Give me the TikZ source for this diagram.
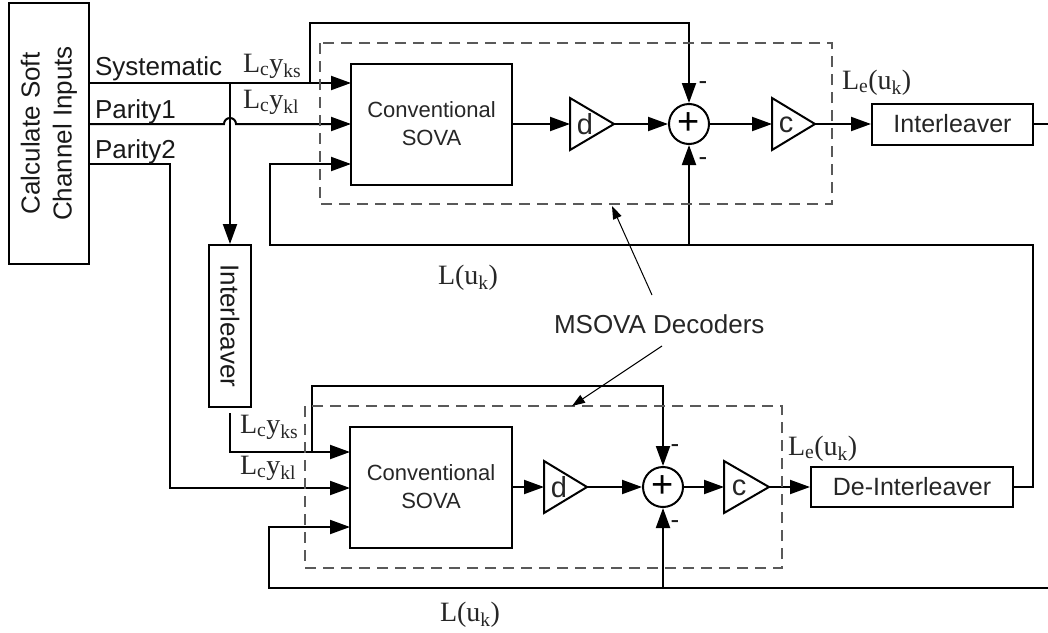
\documentclass[tikz,border=0pt]{standalone}
\usepackage{fontspec}
\setmainfont{Liberation Serif}
\setsansfont{Liberation Sans}
\usetikzlibrary{arrows.meta,calc}
\begin{document}
\begin{tikzpicture}[x=1pt,y=-1pt,
  line width=2pt,
  arr/.style={-{Triangle[length=20pt,width=14pt]}},
  box/.style={draw, line width=2pt, inner sep=0pt, font=\sffamily\fontsize{25}{28}\selectfont, text=black!85},
  sovabox/.style={box, align=center, font=\sffamily\fontsize{22}{28}\selectfont},
  sans/.style={font=\sffamily\fontsize{26}{32}\selectfont, inner sep=0pt, text=black!90},
  big/.style={font=\sffamily\fontsize{29}{32}\selectfont, inner sep=0pt, text=black!85},
  ser/.style={font=\rmfamily\fontsize{28}{30}\selectfont, inner sep=0pt, text=black!85},
  dbox/.style={draw=black!65, line width=1.5pt, dash pattern=on 11pt off 7pt},
  sumc/.style={circle, draw, line width=2pt, minimum size=40pt, inner sep=0pt, font=\sffamily\fontsize{38}{38}\selectfont},
  tri/.style={draw, line width=2pt, line join=miter},
  thinarr/.style={line width=1pt, -{Triangle[length=13pt,width=9pt]}},
]
\useasboundingbox (0,0) rectangle (1048,632);

% ---- blocks
\node[box, minimum width=80pt, minimum height=261pt] (calc) at (49,133.5) {};
\node[sans, rotate=90, align=center] (calctxt) at (calc) {Calculate Soft\\Channel Inputs};

\node[sovabox, minimum width=161pt, minimum height=121pt] (sova1) at (431.5,124) {Conventional\\SOVA};
\node[sovabox, minimum width=162pt, minimum height=121pt] (sova2) at (431,487) {Conventional\\SOVA};

\node[box, minimum width=161pt, minimum height=41pt] (intl2) at (952.5,124) {Interleaver};
\node[box, minimum width=42pt, minimum height=162pt] (intl) at (230,326) {};
\node[sans, rotate=-90] (intltxt) at (intl) {Interleaver};
\node[box, minimum width=202pt, minimum height=40pt] (deint) at (912,487) {De-Interleaver};

\node[sumc] (sum1) at (689,124) {+};
\node[sumc] (sum2) at (663,487) {+};

% ---- gain triangles
\coordinate (d1in) at (570,124); \coordinate (d1out) at (614,124);
\coordinate (c1in) at (772,124); \coordinate (c1out) at (815,124);
\coordinate (d2in) at (544,487); \coordinate (d2out) at (587,487);
\coordinate (c2in) at (724,487); \coordinate (c2out) at (769,487);
\draw[tri] (570,98) -- (d1out) -- (570,150) -- cycle;
\draw[tri] (772,98) -- (c1out) -- (772,150) -- cycle;
\draw[tri] (544,461) -- (d2out) -- (544,513) -- cycle;
\draw[tri] (724,461) -- (c2out) -- (724,513) -- cycle;
\node[big] (dl1) at (585,124) {d};
\node[big] (cl1) at (786,125) {c};
\node[big] (dl2) at (559,487) {d};
\node[big] (cl2) at (739,488) {c};

% ---- named points
\coordinate (s1a) at (351,83);
\coordinate (s1b) at (351,124);
\coordinate (s1c) at (351,164);
\coordinate (s2a) at (350,452);
\coordinate (s2b) at (350,488);
\coordinate (s2c) at (350,527);
\coordinate (br) at (230,83);
\coordinate (j1) at (310,83);
\coordinate (top1) at (689,23);
\coordinate (fb1r) at (1033,245);
\coordinate (fb1l) at (270,164);
\coordinate (fb1m) at (689,245);
\coordinate (p2) at (170,164);
\coordinate (j2) at (312,452);
\coordinate (top2) at (663,386);
\coordinate (edge1) at (1050,124);
\coordinate (edge2) at (1050,588);
\coordinate (fb2l) at (269,527);
\coordinate (fb2m) at (663,588);

% ---- top decoder connectors
\draw[arr] (calc.east |- s1a) -- (s1a);
\draw[arr] (calc.east |- s1b) -- (224,124) arc[start angle=180,end angle=0,radius=6pt] -- (s1b);
\draw[arr] (calc.east |- s1c) -- (p2) |- (s2b);
\draw[arr] (br) -- (intl.north);
\draw[arr] (j1) |- (top1) -- (sum1.north);
\draw[arr] (sova1.east) -- (d1in);
\draw[arr] (d1out) -- (sum1.west);
\draw[arr] (sum1.east) -- (c1in);
\draw[arr] (c1out) -- (intl2.west);
\draw (intl2.east) -- (edge1);
\draw[arr] (deint.east) -| (fb1r) -| (fb1l) -- (s1c);
\draw[arr] (fb1m) -- (sum1.south);

% ---- bottom decoder connectors
\draw[arr] ([yshift=-5pt]intl.south) |- (s2a);
\draw[arr] (j2) |- (top2) -- (sum2.north);
\draw[arr] (sova2.east) -- (d2in);
\draw[arr] (d2out) -- (sum2.west);
\draw[arr] (sum2.east) -- (c2in);
\draw[arr] (c2out) -- (deint.west);
\draw[arr] (edge2) -| (fb2l) -- (s2c);
\draw[arr] (fb2m) -- (sum2.south);

% ---- dashed decoder frames
\draw[dbox] (320,43) rectangle (832,204);
\draw[dbox] (305,406) rectangle (782,568);

% ---- labels
\node[sans, anchor=base west] (lsys) at (94,75) {Systematic};
\node[sans, anchor=base west] (lp1) at (94,118) {Parity1};
\node[sans, anchor=base west] (lp2) at (94,158) {Parity2};

\node[ser, anchor=base west] (lks1) at (242,72) {L\textsubscript{c}y\textsubscript{ks}};
\node[ser, anchor=base west] (lkl1) at (242,108) {L\textsubscript{c}y\textsubscript{kl}};
\node[ser, anchor=base west] (lks2) at (239,433) {L\textsubscript{c}y\textsubscript{ks}};
\node[ser, anchor=base west] (lkl2) at (239,474) {L\textsubscript{c}y\textsubscript{kl}};
\node[ser, anchor=base west] (lu1) at (437,284) {L(u\textsubscript{k})};
\node[ser, anchor=base west] (lu2) at (439,621) {L(u\textsubscript{k})};
\node[ser, anchor=base west] (le1) at (841,89) {L\textsubscript{e}(u\textsubscript{k})};
\node[ser, anchor=base west] (le2) at (787,455) {L\textsubscript{e}(u\textsubscript{k})};

\node[sans] (m1) at (703,86) {-};
\node[sans] (m2) at (703,162) {-};
\node[sans] (m3) at (675,449) {-};
\node[sans] (m4) at (675,525) {-};

\node[sans, anchor=base west, text=black!85] (msova) at (553,333) {MSOVA Decoders};
\coordinate (pt1) at (652,295);
\coordinate (pt2) at (662,346);
\draw[thinarr] (pt1) -- (612,206);
\draw[thinarr] (pt2) -- (572,406);
\end{tikzpicture}
\end{document}
